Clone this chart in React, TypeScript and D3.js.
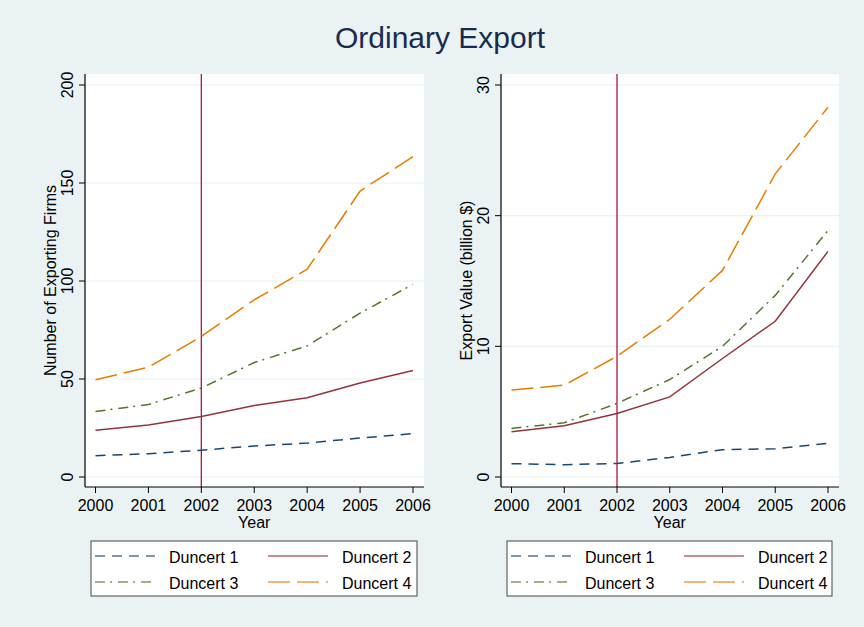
import * as d3 from 'd3';

const years = [2000, 2001, 2002, 2003, 2004, 2005, 2006];
const seriesNames = ['Duncert 1', 'Duncert 2', 'Duncert 3', 'Duncert 4'];

// number of exporting firms
const firms1 = [10.9, 11.9, 13.7, 15.8, 17.3, 19.9, 22.1];
const firms2 = [23.9, 26.5, 30.9, 36.5, 40.4, 48.0, 54.3];
const firms3 = [33.4, 37.0, 45.4, 58.4, 66.9, 83.6, 98.3];
const firms4 = [49.6, 56.0, 71.7, 90.4, 106.0, 145.9, 163.4];

// export value, billion $
const value1 = [1.02, 0.94, 1.04, 1.5, 2.09, 2.16, 2.57];
const value2 = [3.46, 3.92, 4.86, 6.13, 9.07, 11.92, 17.27];
const value3 = [3.72, 4.15, 5.63, 7.46, 10.0, 13.9, 18.87];
const value4 = [6.65, 7.03, 9.24, 12.07, 15.81, 23.2, 28.3];

const firmTicks = [0, 50, 100, 150, 200];
const valueTicks = [0, 10, 20, 30];
const markYear = 2002;

const colors = ['#1a476f', '#90353b', '#55752f', '#e37e00'];
const dashes = ['10 7', null, '10 5 2 6', '22 7'];

const W = 864;
const H = 627;
const FONT = '"Liberation Sans", Arial, Helvetica, sans-serif';

interface PanelProps {
  left: number;
  right: number;
  yMax: number;
  ticks: number[];
  series: number[][];
  yTitle: string;
}

function Panel({ left, right, yMax, ticks, series, yTitle }: PanelProps) {
  const top = 74;
  const bottom = 487;

  const x = d3.scaleLinear()
    .domain([years[0], years[years.length - 1]])
    .range([left + 10.5, right - 11]);
  const y = d3.scaleLinear()
    .domain([0, yMax])
    .range([bottom - 10, top + 11]);

  const line = d3.line<number>()
    .x((_, i) => x(years[i]))
    .y(d => y(d));

  const midY = (top + bottom) / 2;
  const midX = (x.range()[0] + x.range()[1]) / 2;

  // legend
  const lgLeft = left + 6;
  const lgRight = right - 7;
  const lgTop = 541;
  const lgBottom = 596;
  const rows = [556, 582];
  const colX = [lgLeft + 4, lgLeft + 177];

  return (
    <g>
      <rect x={left} y={top} width={right - left} height={bottom - top} fill="#ffffff" />
      {ticks.map(t => (
        <line key={'g' + t} x1={left} x2={right} y1={y(t)} y2={y(t)} stroke="#eaf2f3" strokeWidth={1.2} />
      ))}
      <line x1={x(markYear)} x2={x(markYear)} y1={top} y2={bottom} stroke="#b0153c" strokeWidth={1.3} />
      {series.map((s, i) => (
        <path
          key={i}
          d={line(s) || ''}
          fill="none"
          stroke={colors[i]}
          strokeWidth={1.5}
          strokeDasharray={dashes[i] || undefined}
        />
      ))}
      {/* axes */}
      <line x1={left} x2={left} y1={top} y2={bottom} stroke="#000" strokeWidth={1.2} />
      <line x1={left} x2={right} y1={bottom} y2={bottom} stroke="#000" strokeWidth={1.2} />
      {ticks.map(t => (
        <g key={'yt' + t}>
          <line x1={left - 6} x2={left} y1={y(t)} y2={y(t)} stroke="#000" strokeWidth={1} />
          <text
            transform={`translate(${left - 12},${y(t)}) rotate(-90)`}
            textAnchor="middle"
            fontSize={16}
            fontFamily={FONT}
            fill="#000"
          >
            {t}
          </text>
        </g>
      ))}
      {years.map(yr => (
        <g key={'xt' + yr}>
          <line x1={x(yr)} x2={x(yr)} y1={bottom} y2={bottom + 6} stroke="#000" strokeWidth={1} />
          <text x={x(yr)} y={511} textAnchor="middle" fontSize={16} fontFamily={FONT} fill="#000">
            {yr}
          </text>
        </g>
      ))}
      <text x={midX} y={528} textAnchor="middle" fontSize={16} fontFamily={FONT} fill="#000">
        Year
      </text>
      <text
        transform={`translate(${left - 29},${midY}) rotate(-90)`}
        textAnchor="middle"
        fontSize={16}
        fontFamily={FONT}
        fill="#000"
      >
        {yTitle}
      </text>

      <rect
        x={lgLeft}
        y={lgTop}
        width={lgRight - lgLeft}
        height={lgBottom - lgTop}
        fill="#ffffff"
        stroke="#444"
        strokeWidth={1}
      />
      {seriesNames.map((name, i) => {
        const cx = colX[i % 2];
        const cy = rows[Math.floor(i / 2)];
        return (
          <g key={name}>
            <line
              x1={cx}
              x2={cx + 60}
              y1={cy}
              y2={cy}
              stroke={colors[i]}
              strokeOpacity={0.75}
              strokeWidth={1.5}
              strokeDasharray={dashes[i] || undefined}
            />
            <text x={cx + 74} y={cy + 7} fontSize={16} fontFamily={FONT} fill="#000">
              {name}
            </text>
          </g>
        );
      })}
    </g>
  );
}

export default function App() {
  return (
    <svg
      width={W}
      height={H}
      style={{ position: 'absolute', left: 0, top: 0, display: 'block' }}
    >
      <rect x={0} y={0} width={W} height={H} fill="#eaf2f3" />
      <text x={440} y={48} textAnchor="middle" fontSize={30} fontFamily={FONT} fill="#1a2b50">
        Ordinary Export
      </text>
      <Panel
        left={85}
        right={424}
        yMax={200}
        ticks={firmTicks}
        series={[firms1, firms2, firms3, firms4]}
        yTitle="Number of Exporting Firms"
      />
      <Panel
        left={501}
        right={839}
        yMax={30}
        ticks={valueTicks}
        series={[value1, value2, value3, value4]}
        yTitle="Export Value (billion $)"
      />
    </svg>
  );
}
